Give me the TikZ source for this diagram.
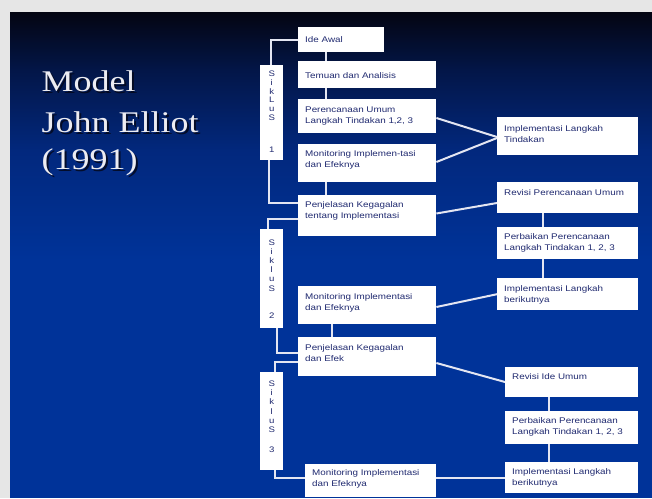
\documentclass[tikz,border=0pt]{standalone}
\usepackage{fontspec}
\usetikzlibrary{calc}

% Slide typefaces: the slide is set slightly wide, hence the stretch
\newfontfamily\titlefont[FakeStretch=1.2]{Liberation Serif}
\newfontfamily\boxfont[FakeStretch=1.2]{Liberation Sans}

\definecolor{pagegray}{RGB}{230,230,230}
\definecolor{bgtop}{RGB}{4,5,18}
\definecolor{bgupper}{RGB}{3,22,72}
\definecolor{bgmid}{RGB}{2,40,125}
\definecolor{bgbottom}{RGB}{0,51,153}
\definecolor{boxtext}{RGB}{32,42,112}
\definecolor{linkcol}{RGB}{228,230,242}
\definecolor{titlecol}{RGB}{236,236,242}
\definecolor{shadowcol}{RGB}{4,8,28}

\tikzset{
  stepbox/.style={fill=white, draw=none, inner sep=0pt, anchor=north west},
  boxlabel/.style={anchor=base west, inner sep=0pt, text=boxtext,
    font=\boxfont\fontsize{8.2}{11}\selectfont},
  siklusbox/.style={fill=white, draw=none, inner sep=0pt, anchor=north west,
    minimum width=23pt},
  sikluslabel/.style={anchor=base, inner sep=0pt, text=boxtext},
  link/.style={draw=linkcol, line width=2pt},
  titletext/.style={anchor=base west, inner sep=0pt,
    font=\titlefont\fontsize{30}{36}\selectfont},
}

% #1 name, #2 x, #3 y, #4 width, #5 height, #6 first baseline below top, #7 text
\newcommand\stepnode[7]{%
  \node[stepbox, minimum width=#4pt, minimum height=#5pt] (#1) at (#2,#3) {};
  \node[boxlabel] (#1-text) at ($(#1.north west)+(7,#6)$)
    {\parbox[t]{#4pt}{\raggedright #7}};
}

\begin{document}
\begin{tikzpicture}[x=1pt,y=-1pt]
  \useasboundingbox (0,0) rectangle (652,498);

  % page and slide background
  \fill[pagegray] (0,0) rectangle (652,498);
  \shade[top color=bgtop, bottom color=bgupper] (10,12) rectangle (652,70.5);
  \shade[top color=bgupper, bottom color=bgmid] (10,70) rectangle (652,150.5);
  \shade[top color=bgmid, bottom color=bgbottom] (10,150) rectangle (652,260.5);
  \fill[bgbottom] (10,260) rectangle (652,498);

  % title with drop shadow
  \node[titletext, text=shadowcol, opacity=0.85] (title1-shadow) at (43.5,93) {Model};
  \node[titletext, text=shadowcol, opacity=0.85] (title2-shadow) at (43.5,134) {John Elliot};
  \node[titletext, text=shadowcol, opacity=0.85] (title3-shadow) at (43.5,171) {(1991)};
  \node[titletext, text=titlecol] (title1) at (41.5,91) {Model};
  \node[titletext, text=titlecol] (title2) at (41.5,132) {John Elliot};
  \node[titletext, text=titlecol] (title3) at (41.5,169) {(1991)};

  % cycle 1
  \stepnode{ideawal}{298}{27}{86}{25}{15}{Ide Awal}
  \stepnode{temuan}{298}{61}{138}{27}{17}{Temuan dan Analisis}
  \stepnode{rencana}{298}{99}{138}{34}{13}{Perencanaan Umum\\Langkah Tindakan 1,2, 3}
  \stepnode{monitorA}{298}{144}{138}{38}{12}{Monitoring Implemen-tasi\\dan Efeknya}
  \stepnode{jelasA}{298}{195}{138}{41}{12}{Penjelasan Kegagalan\\tentang Implementasi}
  \stepnode{implTindakan}{497}{117}{141}{38}{14}{Implementasi Langkah\\Tindakan}

  % cycle 2
  \stepnode{revisiRencana}{497}{182}{141}{31}{13.5}{Revisi Perencanaan Umum}
  \stepnode{perbaikanB}{497}{227}{141}{32}{12.5}{Perbaikan Perencanaan\\Langkah Tindakan 1, 2, 3}
  \stepnode{lanjutB}{497}{278}{141}{32}{13}{Implementasi Langkah\\berikutnya}
  \stepnode{monitorB}{298}{286}{138}{38}{13}{Monitoring Implementasi\\dan Efeknya}
  \stepnode{jelasB}{298}{337}{138}{39}{13.5}{Penjelasan Kegagalan\\dan Efek}

  % cycle 3
  \stepnode{revisiIde}{505}{367}{133}{30}{12.5}{Revisi Ide Umum}
  \stepnode{perbaikanC}{505}{411}{133}{33}{12.5}{Perbaikan Perencanaan\\Langkah Tindakan 1, 2, 3}
  \stepnode{lanjutC}{505}{462}{133}{31}{12.5}{Implementasi Langkah\\berikutnya}
  \stepnode{monitorC}{305}{464}{131}{33}{11}{Monitoring Implementasi\\dan Efeknya}

  % cycle labels
  \node[siklusbox, minimum height=95pt] (s1) at (260,65) {};
  \node[sikluslabel] (s1-text) at ($(s1.north)+(0,11.5)$)
    {\parbox[t]{20pt}{\centering\boxfont\fontsize{8}{8.8}\selectfont S\\i\\k\\L\\u\\S\\[23.2pt]1}};
  \node[siklusbox, minimum height=99pt] (s2) at (260,229) {};
  \node[sikluslabel] (s2-text) at ($(s2.north)+(0,16)$)
    {\parbox[t]{20pt}{\centering\boxfont\fontsize{8}{9.2}\selectfont S\\i\\k\\l\\u\\S\\[17.8pt]2}};
  \node[siklusbox, minimum height=98pt] (s3) at (260,372) {};
  \node[sikluslabel] (s3-text) at ($(s3.north)+(0,14.5)$)
    {\parbox[t]{20pt}{\centering\boxfont\fontsize{8}{9.2}\selectfont S\\i\\k\\l\\u\\S\\[10.8pt]3}};

  % vertical links inside each column
  \draw[link] ($(ideawal.south west)+(28,0)$) -- ($(temuan.north west)+(28,0)$);
  \draw[link] ($(temuan.south west)+(28,0)$) -- ($(rencana.north west)+(28,0)$);
  \draw[link] ($(monitorA.south west)+(28,0)$) -- ($(jelasA.north west)+(28,0)$);
  \draw[link] ($(revisiRencana.south west)+(46,0)$) -- ($(perbaikanB.north west)+(46,0)$);
  \draw[link] ($(perbaikanB.south west)+(46,0)$) -- ($(lanjutB.north west)+(46,0)$);
  \draw[link] ($(monitorB.south west)+(34,0)$) -- ($(jelasB.north west)+(34,0)$);
  \draw[link] ($(revisiIde.south west)+(44,0)$) -- ($(perbaikanC.north west)+(44,0)$);
  \draw[link] ($(perbaikanC.south west)+(44,0)$) -- ($(lanjutC.north west)+(44,0)$);

  % links across the columns
  \draw[link] ($(rencana.north east)+(0,19)$) -- ($(implTindakan.north west)+(0,20)$);
  \draw[link] ($(monitorA.north east)+(0,18)$) -- ($(implTindakan.north west)+(0,21)$);
  \draw[link] ($(jelasA.north east)+(0,18.5)$) -- ($(revisiRencana.north west)+(0,21)$);
  \draw[link] ($(monitorB.north east)+(0,21)$) -- (lanjutB.west);
  \draw[link] ($(jelasB.north east)+(0,26)$) -- ($(revisiIde.north west)+(0,15)$);
  \draw[link] (monitorC.east |- lanjutC.west) -- (lanjutC.west);

  % cycle brackets
  \draw[link] (ideawal.west) -| ($(s1.north)+(-0.5,0)$);
  \draw[link] ($(s1.south)+(-3,0)$) |- ($(jelasA.north west)+(0,8)$);
  \draw[link] ($(jelasA.north west)+(0,24)$) -| ($(s2.north)+(-3.5,0)$);
  \draw[link] ($(s2.south)+(5.5,0)$) |- ($(jelasB.north west)+(0,16)$);
  \draw[link] ($(jelasB.north west)+(0,25)$) -| ($(s3.north)+(3.5,0)$);
  \draw[link] ($(s3.south)+(3.5,0)$) |- ($(monitorC.north west)+(0,14)$);
\end{tikzpicture}
\end{document}
